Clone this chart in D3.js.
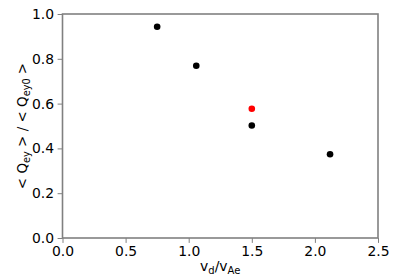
<!DOCTYPE html>
<html>
<head>
<meta charset="utf-8">
<script src="https://cdn.jsdelivr.net/npm/d3@7"></script>
<style>
  html, body { margin: 0; padding: 0; background: #fff; }
  text { font-family: "DejaVu Sans", sans-serif; }
</style>
</head>
<body>
<svg id="chart" width="420" height="280"></svg>
<script>
// Data
const xValues = [0.75, 1.06, 1.5, 2.12, 1.5];
const yValues = [0.943, 0.769, 0.502, 0.374, 0.577];
const pointColors = ["black", "black", "black", "black", "red"];
const xTicks = [0.0, 0.5, 1.0, 1.5, 2.0, 2.5];
const yTicks = [0.0, 0.2, 0.4, 0.6, 0.8, 1.0];

const svg = d3.select("#chart");
const margin = { left: 62.5, right: 42, top: 14, bottom: 42 };
const W = 420, H = 280;
const x = d3.scaleLinear().domain([0, 2.5]).range([margin.left, W - margin.right]);
const y = d3.scaleLinear().domain([0, 1.0]).range([H - margin.bottom, margin.top]);

const spine = "#808080";

const xAxis = d3.axisBottom(x).tickValues(xTicks).tickFormat(d3.format(".1f")).tickSize(4.9).tickPadding(3.5);
const yAxis = d3.axisLeft(y).tickValues(yTicks).tickFormat(d3.format(".1f")).tickSize(4.9).tickPadding(3.5);

const gx = svg.append("g").attr("transform", `translate(0,${H - margin.bottom})`).call(xAxis);
const gy = svg.append("g").attr("transform", `translate(${margin.left},0)`).call(yAxis);
[gx, gy].forEach(g => {
  g.select(".domain").remove();
  g.selectAll(".tick line").attr("stroke", spine).attr("stroke-width", 1);
  g.selectAll(".tick text").attr("fill", "black").style("font-size", "13.9px").style("font-family", "DejaVu Sans");
});

// Frame (spines)
svg.append("rect")
  .attr("x", x(0)).attr("y", y(1))
  .attr("width", x(2.5) - x(0)).attr("height", y(0) - y(1))
  .attr("fill", "none").attr("stroke", spine).attr("stroke-width", 1.6);

// Points
svg.append("g").selectAll("circle")
  .data(xValues.map((v, i) => ({ x: v, y: yValues[i], c: pointColors[i] })))
  .join("circle")
  .attr("cx", d => x(d.x)).attr("cy", d => y(d.y))
  .attr("r", 3.3).attr("fill", d => d.c);

// X label
const xl = svg.append("text")
  .attr("x", (x(0) + x(2.5)) / 2).attr("y", 271)
  .attr("text-anchor", "middle").style("font-size", "13.9px");
xl.append("tspan").text("v");
xl.append("tspan").attr("dy", 3).style("font-size", "10px").text("d");
xl.append("tspan").attr("dy", -3).text("/v");
xl.append("tspan").attr("dy", 3).style("font-size", "10px").text("Ae");

// Y label
const yl = svg.append("text")
  .attr("transform", `translate(27,${(y(0) + y(1)) / 2}) rotate(-90)`)
  .attr("text-anchor", "middle").style("font-size", "13.5px");
yl.append("tspan").text("< Q");
yl.append("tspan").attr("dy", 3).style("font-size", "9.7px").text("ey");
yl.append("tspan").attr("dy", -3).text(" > / < Q");
yl.append("tspan").attr("dy", 3).style("font-size", "9.7px").text("ey0");
yl.append("tspan").attr("dy", -3).text(" >");
</script>
</body>
</html>
